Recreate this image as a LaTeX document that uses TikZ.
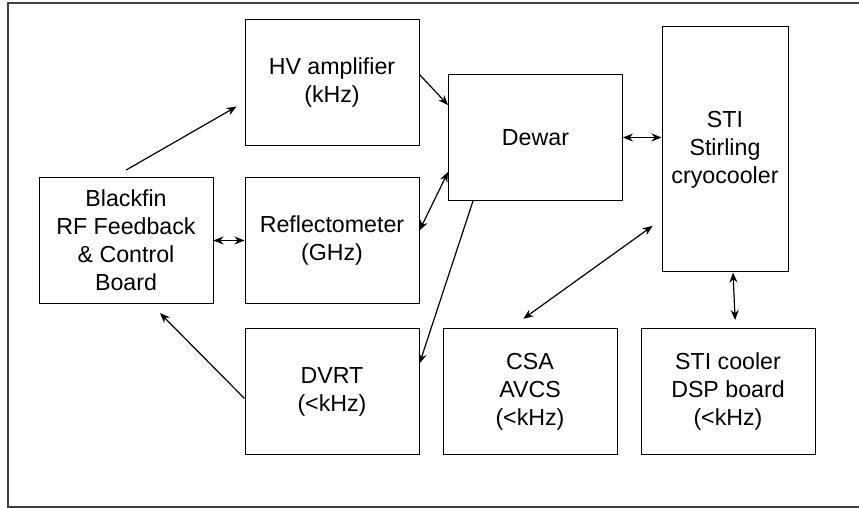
\documentclass[tikz,border=0pt]{standalone}
\usepackage{fontspec}
\setmainfont{Liberation Sans}
\usepackage{tikz}
\usetikzlibrary{positioning}
\usetikzlibrary{arrows.meta}

\begin{document}
\begin{tikzpicture}[
			x=0.5pt, y=-0.5pt,
			font=\fontsize{11.6}{14}\selectfont,
			box/.style={
				draw,
				line width=0.5pt,
				align=center,
				inner sep=2pt,
				minimum width=87pt,
				minimum height=63pt
			},
			tallbox/.style={box, minimum width=63pt, minimum height=122.5pt},
			arr/.style={-{Stealth[length=5pt, width=4pt]}, line width=0.6pt},
			darr/.style={{Stealth[length=5pt, width=4pt]}-{Stealth[length=5pt, width=4pt]}, line width=0.6pt},
			frame/.style={draw=black!75, line width=1pt}
			]
			
			\useasboundingbox (0,0) rectangle (859,508);
			\draw[frame] (859,3) -- (8,3) -- (8,507) -- (859,507);
			
			\node[box] (bf) at (126,240.5) {Blackfin\\RF Feedback\\\& Control\\Board};
			\node[box, right=15.5pt of bf] (refl) {Reflectometer\\(GHz)};
			\node[box, above=15.5pt of refl] (hv) {HV amplifier\\(kHz)};
			\node[box, below=12pt of refl] (dvrt) {DVRT\\(<kHz)};
			\node[box] (dewar) at (535.5,137.5) {Dewar};
			\node[tallbox] (sti) at (725,149.5) {STI\\Stirling\\cryocooler};
			\node[box, right=11.5pt of dvrt] (csa) {CSA\\AVCS\\(<kHz)};
			\node[box, right=11.5pt of csa] (dsp) {STI cooler\\DSP board\\(<kHz)};
			
			\draw[arr, shorten <=7pt, shorten >=4.6pt] ([xshift=-6pt]bf.north) -- ([yshift=-9.75pt]hv.west);
			\draw[arr] ([yshift=4pt]hv.east) -- ([yshift=16.25pt]dewar.west);
			\draw[darr] ([yshift=-17.25pt]dewar.west) -- ([yshift=5pt]refl.east);
			\draw[arr] ([xshift=-31.25pt]dewar.south) -- ([yshift=14pt]dvrt.east);
			\draw[darr] (bf.east) -- (refl.west);
			\draw[darr] (dewar.east) -- (dewar.east -| sti.west);
			\draw[darr, shorten <=7.9pt, shorten >=5.5pt] ([xshift=-9.75pt]csa.north) -- ([yshift=-35pt]sti.west);
			\draw[darr, shorten >=4pt] ([xshift=4pt]sti.south) -- ([xshift=3.75pt]dsp.north);
			\draw[arr, shorten >=6.4pt] ([yshift=-3.5pt]dvrt.west) -- ([xshift=12.5pt]bf.south);
			
		\end{tikzpicture}
\end{document}
